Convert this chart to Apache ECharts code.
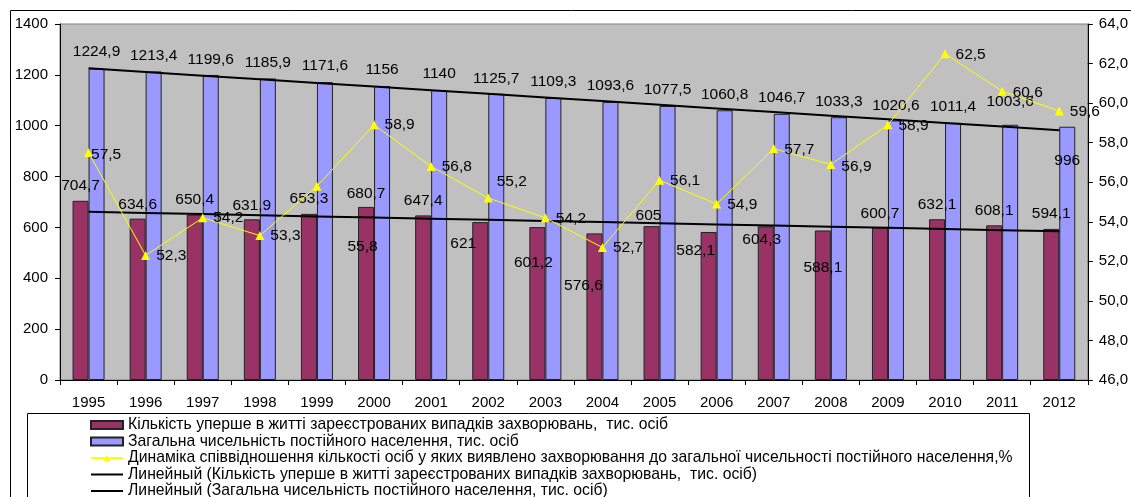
<!DOCTYPE html>
<html>
<head>
<meta charset="utf-8">
<script src="https://cdn.jsdelivr.net/npm/echarts@6/dist/echarts.min.js"></script>
<style>
html,body{margin:0;padding:0;background:#fff;}
#chart{width:1131px;height:497px;}
</style>
</head>
<body>
<div id="chart"></div>
<script>
// ---- data ----
var years = ['1995','1996','1997','1998','1999','2000','2001','2002','2003','2004','2005','2006','2007','2008','2009','2010','2011','2012'];
var newCases = [704.7, 634.6, 650.4, 631.9, 653.3, 680.7, 647.4, 621, 601.2, 576.6, 605, 582.1, 604.3, 588.1, 600.7, 632.1, 608.1, 594.1];
var population = [1224.9, 1213.4, 1199.6, 1185.9, 1171.6, 1156, 1140, 1125.7, 1109.3, 1093.6, 1077.5, 1060.8, 1046.7, 1033.3, 1020.6, 1011.4, 1003.6, 996];
var ratio = [57.5, 52.3, 54.2, 53.3, 55.8, 58.9, 56.8, 55.2, 54.2, 52.7, 56.1, 54.9, 57.7, 56.9, 58.9, 62.5, 60.6, 59.6];

var nameCases = 'Кількість уперше в житті зареєстрованих випадків захворювань,  тис. осіб';
var namePop = 'Загальна чисельність постійного населення, тис. осіб';
var nameRatio = 'Динаміка співвідношення кількості осіб у яких виявлено захворювання до загальної чисельності постійного населення,%';
var nameTrendCases = 'Линейный (Кількість уперше в житті зареєстрованих випадків захворювань,  тис. осіб)';
var nameTrendPop = 'Линейный (Загальна чисельність постійного населення, тис. осіб)';

// ---- label layout offsets (manual label placement, not data) ----
var casesLabelOffsets = [[0,-3],[0,-2],[0,-3],[0,-2],[0,-3],[0,-1],[0,-3],[-17,34],[-4,48],[-11,64],[-3,2],[-13,31],[-4,25],[0,49],[0,-2],[0,-3],[0,-3],[0,-3]];
var popLabelOffsets = [[0,-2],[0,-1],[0,0],[0,-1],[0,-1],[0,-1],[0,-1],[0,0],[0,-1],[0,-1],[0,-1],[0,-1],[0,-1],[0,-1],[0,0],[0,-1],[0,-8],[0,49]];
var ratioLabelOffsets = [[-8,2],[0,0],[0,0],[0,0],[20,61],[0,0],[0,0],[-2,-16],[0,1],[0,0],[0,0],[0,1],[0,1],[0,2],[0,1],[0,1],[0,1],[0,1]];

function fmt(v){ return String(v).replace('.', ','); }
function linTrend(arr){
  var n = arr.length, mx = (n-1)/2, my = 0, i;
  for(i=0;i<n;i++) my += arr[i];
  my /= n;
  var sxy = 0, sxx = 0;
  for(i=0;i<n;i++){ sxy += (i-mx)*(arr[i]-my); sxx += (i-mx)*(i-mx); }
  var b = sxy/sxx, a = my - b*mx;
  return arr.map(function(_, k){ return +(a + b*k).toFixed(3); });
}
function withOffsets(vals, offs){
  return vals.map(function(v,i){ return {value: v, label: {offset: offs[i]}}; });
}

var FONT = '"Liberation Sans", Arial, sans-serif';
var LBL = 15.5;
var lineIcon = 'path://M0,0h64v4h-64z';
var chart = echarts.init(document.getElementById('chart'), null, {renderer:'canvas'});
chart.setOption({
  animation: false,
  textStyle: {fontFamily: FONT},
  graphic: [
    {type:'rect', shape:{x:10.5, y:10.5, width:1140, height:500}, style:{fill:null, stroke:'#000', lineWidth:1}, z:-10, silent:true},
    {type:'rect', shape:{x:27.5, y:413.5, width:1002, height:100}, style:{fill:'#fff', stroke:'#000', lineWidth:1}, z:-5, silent:true}
  ],
  grid: {left:60, right:43, top:24, bottom:117, show:true, backgroundColor:'#C0C0C0', borderColor:'#808080', borderWidth:1},
  legend: {
    orient:'vertical', left:90, top:417, height:150, padding:0, itemWidth:32, itemHeight:8, itemGap:0.5,
    textStyle:{fontFamily:FONT, fontSize:15.75, color:'#000', lineHeight:13},
    data: [
      {name:nameCases, icon:'rect'},
      {name:namePop, icon:'rect'},
      {name:nameRatio},
      {name:nameTrendCases, icon:lineIcon},
      {name:nameTrendPop, icon:lineIcon}
    ]
  },
  xAxis: {
    type:'category', data:years, boundaryGap:true,
    axisLine:{lineStyle:{color:'#000', width:1}},
    axisTick:{show:true, alignWithLabel:false, length:5, lineStyle:{color:'#000'}},
    axisLabel:{fontFamily:FONT, fontSize:15, color:'#000', margin:15}
  },
  yAxis: [
    {type:'value', min:0, max:1400, interval:200, position:'left',
     axisLine:{show:true, lineStyle:{color:'#000'}}, axisTick:{show:true, length:5, lineStyle:{color:'#000'}},
     splitLine:{show:false},
     axisLabel:{fontFamily:FONT, fontSize:15, color:'#000', margin:12,
       formatter:function(v){ return String(v); }}},
    {type:'value', min:46, max:64, interval:2, position:'right',
     axisLine:{show:true, lineStyle:{color:'#000'}}, axisTick:{show:true, length:5, lineStyle:{color:'#000'}},
     splitLine:{show:false},
     axisLabel:{fontFamily:FONT, fontSize:15, color:'#000', margin:11,
       formatter:function(v){ return v.toFixed(1).replace('.', ','); }}}
  ],
  series: [
    {name:nameCases, type:'bar', yAxisIndex:0, barWidth:16, barGap:'0%',
     itemStyle:{color:'#993366', borderColor:'#222', borderWidth:1},
     label:{show:true, position:'top', distance:4, fontFamily:FONT, fontSize:LBL, color:'#000',
       formatter:function(p){ return fmt(p.value); }},
     data: withOffsets(newCases, casesLabelOffsets), z:2},
    {name:namePop, type:'bar', yAxisIndex:0, barWidth:16, barGap:'0%',
     itemStyle:{color:'#9999FF', borderColor:'#222', borderWidth:1},
     label:{show:true, position:'top', distance:7, fontFamily:FONT, fontSize:LBL, color:'#000',
       formatter:function(p){ return fmt(p.value); }},
     data: withOffsets(population, popLabelOffsets), z:2},
    {name:nameTrendCases, type:'line', yAxisIndex:0, symbol:'none',
     lineStyle:{color:'#000', width:2}, itemStyle:{color:'#000'},
     data: linTrend(newCases), z:3},
    {name:nameTrendPop, type:'line', yAxisIndex:0, symbol:'none',
     lineStyle:{color:'#000', width:2}, itemStyle:{color:'#000'},
     data: linTrend(population), z:3},
    {name:nameRatio, type:'line', yAxisIndex:1, symbol:'triangle', symbolSize:9,
     lineStyle:{color:'#FFFF00', width:1}, itemStyle:{color:'#FFFF00'},
     label:{show:true, position:'right', distance:6, fontFamily:FONT, fontSize:LBL, color:'#000',
       formatter:function(p){ return fmt(p.value); }},
     data: withOffsets(ratio, ratioLabelOffsets), z:4}
  ]
});
</script>
</body>
</html>
